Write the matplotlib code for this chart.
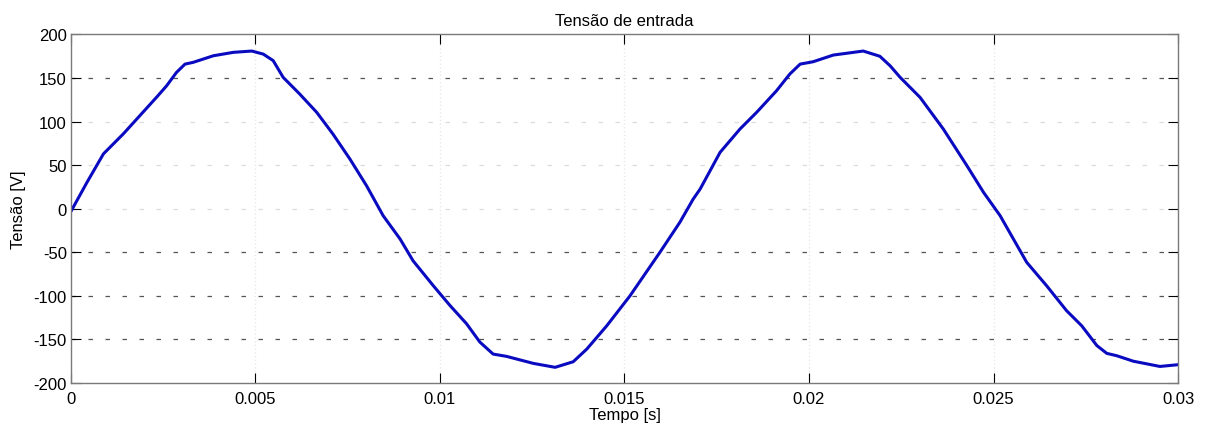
import matplotlib
matplotlib.use("Agg")
import matplotlib.pyplot as plt

plt.rcParams['font.family'] = ['Liberation Sans', 'DejaVu Sans']
plt.rcParams['axes.unicode_minus'] = False

# input voltage samples, time in s, voltage in V
tempo = [0.0, 0.00043, 0.00088, 0.00142, 0.00187, 0.00232, 0.00259, 0.00286,
         0.00309, 0.00331, 0.00386, 0.0044, 0.0049, 0.00521, 0.00548, 0.00575,
         0.0062, 0.00666, 0.0071, 0.00756, 0.00801, 0.00846, 0.00892, 0.00927,
         0.00982, 0.01027, 0.01072, 0.01108, 0.01144, 0.0118, 0.01253, 0.01312,
         0.01361, 0.01398, 0.01452, 0.01515, 0.01596, 0.0165, 0.01686, 0.01705,
         0.01759, 0.01813, 0.01858, 0.01912, 0.01948, 0.01976, 0.02011, 0.02066,
         0.02147, 0.02192, 0.0222, 0.02247, 0.02301, 0.02364, 0.02428, 0.02473,
         0.02518, 0.02554, 0.0259, 0.02644, 0.02698, 0.02739, 0.0278, 0.02807,
         0.02834, 0.02879, 0.02951, 0.03]
tensao = [-3, 30, 63, 86, 107, 128, 141, 156.5,
          166, 168, 175.6, 179.5, 181, 177.5, 170, 150.8,
          131.6, 110.6, 85.7, 57, 26.4, -8, -34.8, -59.7,
          -88.4, -111, -132, -153, -166.8, -169.4, -177.5, -182,
          -175.6, -161, -134.3, -99.9, -50, -15.6, 11, 22.6,
          64.7, 91.5, 110.6, 135.4, 154.6, 166, 168.7, 176.4,
          181, 175, 164, 150.8, 127.8, 91.5, 49.4, 18.8,
          -8, -34.8, -61.5, -88.4, -117, -134.3, -157, -166,
          -168.7, -175, -181, -179]

xticks = [0, 0.005, 0.01, 0.015, 0.02, 0.025, 0.03]
xticklabels = ['0', '0.005', '0.01', '0.015', '0.02', '0.025', '0.03']
yticks = [-200, -150, -100, -50, 0, 50, 100, 150, 200]

fig = plt.figure(figsize=(12.05, 4.27), dpi=100)
ax = fig.add_axes([0.0589, 0.1007, 0.9187, 0.8162])

ax.plot(tempo, tensao, color='#0a0ac0', lw=2.2, solid_joinstyle='round')

ax.set_xlim(0, 0.03)
ax.set_ylim(-200, 200)
ax.set_xticks(xticks)
ax.set_xticklabels(xticklabels)
ax.set_yticks(yticks)

# dotted-style grid, some lines darker than others
for y in yticks[1:-1]:
    dark = y in (150, -50, -100, -150)
    ax.axhline(y, color='#555555' if dark else '#dddddd', lw=0.9,
               dashes=(3.6, 10), zorder=0)
for x in xticks[1:-1]:
    ax.axvline(x, color='#e6e6e6', lw=0.9, dashes=(1, 2), zorder=0)

ax.tick_params(direction='in', length=7, width=0.8, top=True, right=True,
               labelsize=12, colors='black')
ax.tick_params(axis='x', pad=6)
ax.tick_params(axis='y', pad=3)
for s in ax.spines.values():
    s.set_color('#7a7a7a')
    s.set_linewidth(1.0)

ax.set_title('Tensão de entrada', fontsize=12, pad=7)
ax.set_xlabel('Tempo [s]', fontsize=12, labelpad=0.5)
ax.set_ylabel('Tensão [V]', fontsize=12, labelpad=5)

fig.savefig('out.png', dpi=100)
